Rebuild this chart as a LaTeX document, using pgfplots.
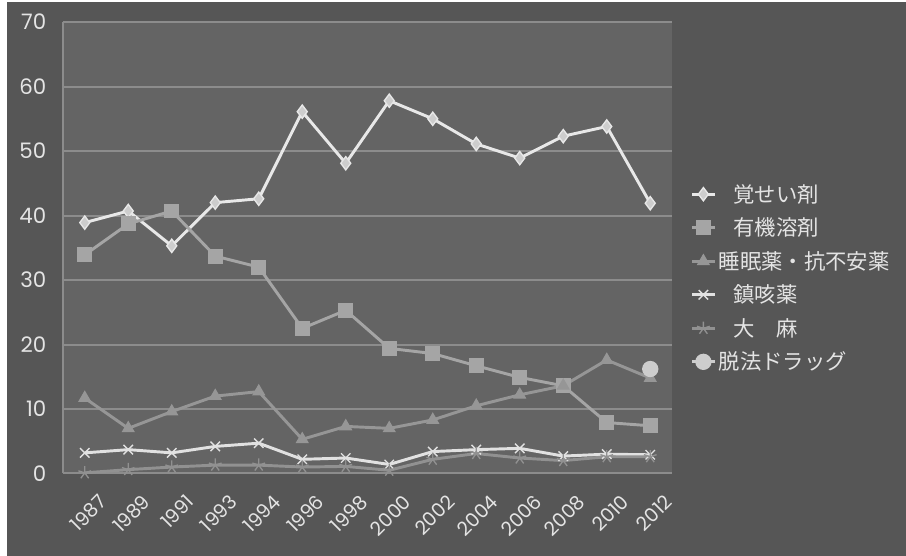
\documentclass[border=0pt]{standalone}
\usepackage{pgfplots}
\usepackage{pgfplotstable}
\pgfplotsset{compat=1.18}
\usepackage{fontspec}
\setmainfont{Poppins}
\newfontfamily\jp{Noto Sans CJK JP}
\definecolor{bgout}{RGB}{86,86,86}
\definecolor{plotbg}{RGB}{100,100,100}
\definecolor{gridc}{RGB}{140,140,140}
\definecolor{txt}{RGB}{228,228,228}
\definecolor{cmeth}{RGB}{232,232,232}
\definecolor{cmethm}{RGB}{205,205,205}
\definecolor{corg}{RGB}{165,165,165}
\definecolor{csleep}{RGB}{150,150,150}
\definecolor{ccough}{RGB}{225,225,225}
\definecolor{ccann}{RGB}{145,145,145}
\definecolor{cdh}{RGB}{205,205,205}
\pgfplotstableread{
x meth org sleep cough cann
0 38.9 33.9 11.7 3.2 0.1
1 40.7 38.7 7.0 3.7 0.6
2 35.3 40.7 9.6 3.2 1.0
3 42.0 33.7 12.0 4.2 1.3
4 42.6 32.0 12.7 4.7 1.3
5 56.1 22.5 5.3 2.2 1.0
6 48.1 25.3 7.3 2.4 1.1
7 57.8 19.4 7.0 1.4 0.5
8 55.0 18.6 8.3 3.4 2.2
9 51.1 16.7 10.5 3.7 3.1
10 48.9 14.9 12.2 3.9 2.4
11 52.3 13.6 13.6 2.7 2.0
12 53.8 7.9 17.6 3.0 2.6
13 41.9 7.4 14.8 2.9 2.6
}\datatable
\begin{document}
\begin{tikzpicture}
\fill[bgout] (0,0) rectangle (679.5pt,417pt);
\fill[white] (0,0) rectangle (5pt,417pt);
\fill[white] (0,415.5pt) rectangle (679.5pt,417pt);
\begin{axis}[
  at={(47.25pt,61.875pt)}, anchor=south west,
  scale only axis, width=456.75pt, height=338.6pt,
  xmin=-0.5, xmax=13.5, ymin=0, ymax=70,
  ytick={0,10,...,70},
  xtick={0,...,13},
  xticklabels={1987,1989,1991,1993,1994,1996,1998,2000,2002,2004,2006,2008,2010,2012},
  axis background/.style={fill=plotbg},
  axis x line*=bottom, axis y line*=left,
  axis line style={draw=gridc, line width=1.5pt, -},
  major tick length=0pt,
  ymajorgrids, major grid style={draw=gridc, line width=1.5pt},
  /pgf/number format/assume math mode=true,
  tick label style={color=txt, font=\fontsize{16}{18}\selectfont},
  yticklabel style={xshift=-9pt},
  xticklabel style={rotate=45, anchor=north east, yshift=-14pt, xshift=0pt, font=\fontsize{14.5}{16}\selectfont},
  legend style={at={(axis description cs:1.03,0.433)}, anchor=west, draw=none, fill=none,
    font=\jp\fontsize{16}{18}\selectfont, text=txt, row sep=6.2pt, inner sep=0pt},
  legend cell align=left,
  every axis plot/.append style={line width=2.2pt},
]
\addplot[color=cmeth, mark=diamond*, mark size=5pt, mark options={fill=cmethm, draw=cmeth, line width=1pt}] table[x=x,y=meth]{\datatable};
\addlegendentry{\hspace{11pt}覚せい剤}
\addplot[color=corg, mark=square*, mark size=4.5pt, mark options={fill=corg, draw=corg}] table[x=x,y=org]{\datatable};
\addlegendentry{\hspace{11pt}有機溶剤}
\addplot[color=csleep, mark=triangle*, mark size=5pt, mark options={fill=csleep, draw=csleep, line width=0.8pt}] table[x=x,y=sleep]{\datatable};
\addlegendentry{睡眠薬・抗不安薬}
\addplot[color=ccough, mark=x, mark size=5pt, mark options={draw=ccough, line width=1pt}] table[x=x,y=cough]{\datatable};
\addlegendentry{\hspace{11pt}鎮咳薬}
\addplot[color=ccann, mark=star, mark size=5pt, mark options={draw=ccann, line width=1pt}] table[x=x,y=cann]{\datatable};
\addlegendentry{\hspace{11pt}大　麻}
\addplot[color=cdh, mark=*, mark size=5pt, mark options={fill=cdh, draw=cdh}] coordinates {(13,16.2)};
\addlegendentry{脱法ドラッグ}
\end{axis}
\end{tikzpicture}
\end{document}
